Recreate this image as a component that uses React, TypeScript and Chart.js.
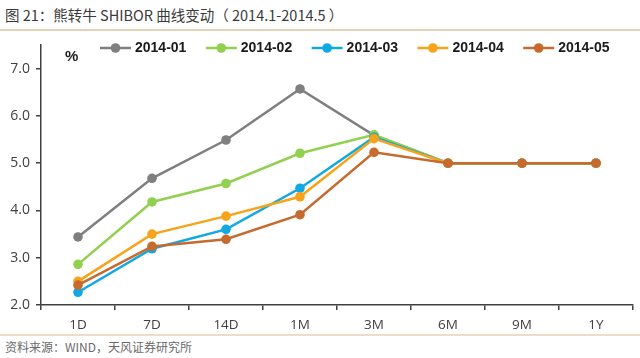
import React, { useEffect, useRef } from "react";
import { Chart, registerables } from "chart.js";

Chart.register(...registerables);

const categories = ["1D", "7D", "14D", "1M", "3M", "6M", "9M", "1Y"];
const s201401 = [3.44, 4.68, 5.49, 6.57, 5.59, 5.0, 5.0, 5.0];
const s201402 = [2.86, 4.18, 4.57, 5.21, 5.6, 5.0, 5.0, 5.0];
const s201403 = [2.27, 3.19, 3.6, 4.47, 5.55, 5.0, 5.0, 5.0];
const s201404 = [2.5, 3.5, 3.88, 4.29, 5.52, 5.0, 5.0, 5.0];
const s201405 = [2.42, 3.24, 3.39, 3.91, 5.23, 5.0, 5.0, 5.0];
const seriesNames = ["2014-01", "2014-02", "2014-03", "2014-04", "2014-05"];
const seriesValues = [s201401, s201402, s201403, s201404, s201405];
const seriesColors = ["#7f7f7f", "#92d050", "#12a9e3", "#f7a31c", "#c76a2e"];
const yTicks = [2, 3, 4, 5, 6, 7];

const legendPlugin = {
  id: "customLegend",
  afterDraw(chart: any) {
    const ctx = chart.ctx;
    ctx.save();
    const y = 18;
    const startX = 100;
    const step = 105.8;
    seriesNames.forEach((name, i) => {
      const x = startX + i * step;
      ctx.strokeStyle = seriesColors[i];
      ctx.lineWidth = 2.5;
      ctx.beginPath();
      ctx.moveTo(x, y);
      ctx.lineTo(x + 31, y);
      ctx.stroke();
      ctx.fillStyle = seriesColors[i];
      ctx.beginPath();
      ctx.arc(x + 15.5, y, 4.8, 0, Math.PI * 2);
      ctx.fill();
      ctx.fillStyle = "#1a1a1a";
      ctx.font = "bold 14px 'Liberation Sans', Arial, sans-serif";
      ctx.textBaseline = "middle";
      ctx.textAlign = "left";
      ctx.fillText(name, x + 35, y + 0.5);
    });
    ctx.font = "bold 15px 'Liberation Sans', Arial, sans-serif";
    ctx.fillStyle = "#1a1a1a";
    ctx.fillText("%", 65, 27);
    ctx.restore();
  },
};

export default function App() {
  const ref = useRef<HTMLCanvasElement>(null);
  useEffect(() => {
    document.body.style.margin = "0";
    const chart = new Chart(ref.current!, {
      type: "line",
      data: {
        labels: categories,
        datasets: seriesValues.map((vals, i) => ({
          label: seriesNames[i],
          data: vals,
          borderColor: seriesColors[i],
          backgroundColor: seriesColors[i],
          borderWidth: 2.5,
          pointRadius: 4.8,
          pointBorderWidth: 0,
          pointBackgroundColor: seriesColors[i],
          tension: 0,
          order: 4 - i,
        })),
      },
      options: {
        responsive: false,
        animation: false,
        layout: { padding: { top: 15, right: 7, left: 0, bottom: 0 } },
        plugins: { legend: { display: false }, tooltip: { enabled: false } },
        scales: {
          x: {
            offset: true,
            grid: {
              offset: true,
              drawOnChartArea: false,
              drawTicks: true,
              tickLength: 5,
              color: "#404040",
              lineWidth: 1.5,
            },
            border: { color: "#404040", width: 1.5 },
            ticks: {
              color: "#404040",
              font: { family: "'Open Sans', sans-serif", size: 13.5 },
              padding: 7,
              maxRotation: 0,
            },
            afterFit(scale: any) {
              scale.height = 29;
            },
          },
          y: {
            min: 2,
            max: 7.5,
            afterBuildTicks(scale: any) {
              scale.ticks = yTicks.map((v) => ({ value: v }));
            },
            grid: {
              drawOnChartArea: false,
              drawTicks: true,
              tickLength: 5,
              color: "#404040",
              lineWidth: 1.5,
            },
            border: { color: "#404040", width: 1.5 },
            ticks: {
              color: "#404040",
              font: { family: "'Open Sans', sans-serif", size: 14 },
              padding: 6,
              callback: (v: any) => Number(v).toFixed(1),
            },
            afterFit(scale: any) {
              scale.width = 41;
            },
          },
        },
      },
      plugins: [legendPlugin],
    });
    return () => chart.destroy();
  }, []);

  return (
    <div style={{ position: "relative", width: 640, height: 358, background: "#fff", overflow: "hidden" }}>
      <div
        style={{
          position: "absolute",
          left: 5,
          top: 4,
          fontFamily: "'Noto Sans CJK SC', sans-serif",
          fontSize: 14.5,
          color: "#3a3a3a",
          whiteSpace: "nowrap",
          lineHeight: "22px",
        }}
      >
        图 21：熊转牛 SHIBOR 曲线变动（ 2014.1-2014.5 ）
      </div>
      <div style={{ position: "absolute", left: 0, top: 29, width: 640, height: 2, background: "#e3d3b8" }} />
      <canvas ref={ref} width={640} height={304} style={{ position: "absolute", left: 0, top: 30 }} />
      <div style={{ position: "absolute", left: 0, top: 334, width: 640, height: 2, background: "#ecdcc8" }} />
      <div
        style={{
          position: "absolute",
          left: 5,
          top: 338,
          fontFamily: "'Noto Sans CJK SC', sans-serif",
          fontSize: 12,
          color: "#6a6a6a",
          whiteSpace: "nowrap",
          lineHeight: "18px",
        }}
      >
        资料来源：WIND，天风证券研究所
      </div>
    </div>
  );
}
